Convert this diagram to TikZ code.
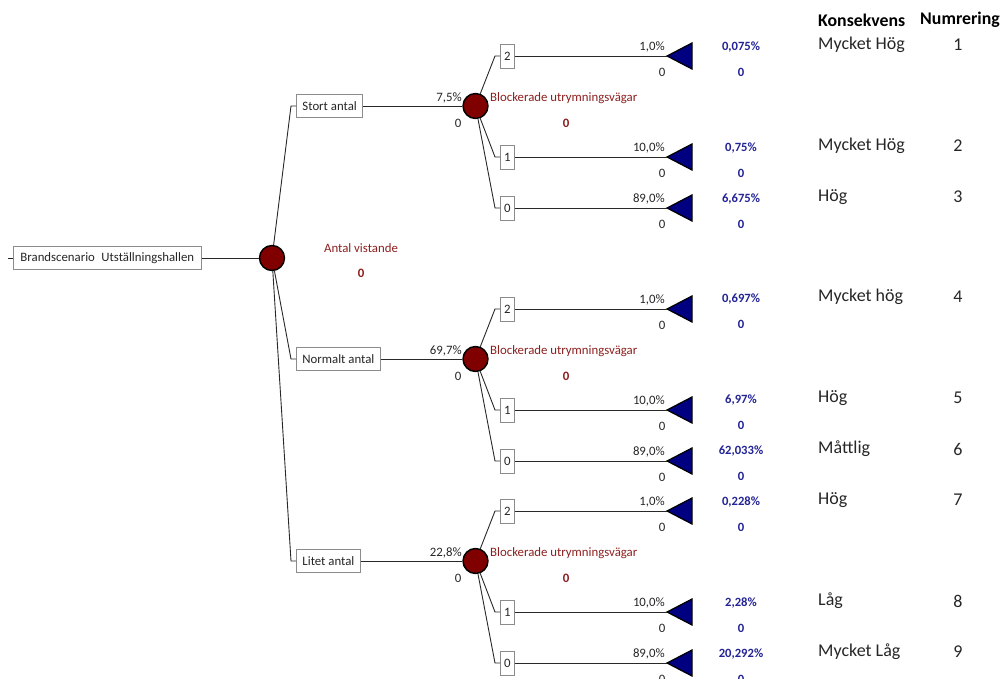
\documentclass[tikz,border=0pt]{standalone}
\usepackage{fontspec}
\setmainfont{Carlito}
\definecolor{mar}{RGB}{128,0,0}
\definecolor{martext}{RGB}{140,30,30}
\definecolor{navyf}{RGB}{0,0,128}
\definecolor{bluetext}{RGB}{35,35,150}
\definecolor{boxgray}{RGB}{140,140,140}
\definecolor{linec}{RGB}{40,40,40}
\tikzset{
  sm/.style={font=\fontsize{12.8}{14}\selectfont, inner sep=0pt, text=black!85},
  big/.style={font=\fontsize{18}{20}\selectfont, inner sep=0pt, text=black!85},
  bigb/.style={font=\fontsize{17.8}{20}\selectfont\bfseries, inner sep=0pt, text=black},
  mr/.style={font=\fontsize{12.8}{14}\selectfont, inner sep=0pt, text=martext},
  mrb/.style={font=\fontsize{12.8}{14}\selectfont\bfseries, inner sep=0pt, text=martext},
  bl/.style={font=\fontsize{12.6}{14}\selectfont\bfseries, inner sep=0pt, text=bluetext},
  box/.style={draw=boxgray, fill=white, line width=0.9pt, font=\fontsize{12.8}{14}\selectfont,
    text=black!85, inner xsep=6pt, inner ysep=0pt, minimum height=23pt},
  nbox/.style={draw=boxgray, fill=white, line width=0.9pt, font=\fontsize{12.8}{14}\selectfont,
    text=black!85, inner sep=0pt, minimum width=14pt, minimum height=24pt},
  chance/.style={circle, draw=black, fill=mar, line width=1.4pt, minimum size=25pt, inner sep=0pt},
  conn/.style={draw=linec, line width=0.9pt},
  tri/.style={draw=black, fill=navyf, line width=1.2pt, line join=miter}
}
\begin{document}
\begin{tikzpicture}[x=1pt,y=-1pt]
\useasboundingbox (0,0) rectangle (1004,679);

% root
\coordinate (rin) at (8,258);
\node[box, anchor=west, inner xsep=7pt] (root) at (13,258) {Brandscenario\hspace{0.5em}Utställningshallen};
\draw[conn] (rin) -- (root.west);
\node[chance] (c0) at (272,258) {};
\draw[conn] (root) -- (c0);
\node[mr] (av) at (361,248) {Antal vistande};
\node[mrb] (avz) at (361,273) {0};

\foreach \g/\cy/\lab/\pct in {A/106/Stort antal/{7,5\%}, B/359/Normalt antal/{69,7\%}, C/561/Litet antal/{22,8\%}} {
  \coordinate (s\g) at (291,\cy);
  \node[box, anchor=west] (b\g) at (296,\cy) {\lab};
  \draw[conn] (c0) -- (s\g) -- (b\g.west);
  \node[chance] (c\g) at (475.5,\cy) {};
  \draw[conn] (b\g) -- (c\g);
  \node[sm, anchor=east] (p\g) at (462,\cy-8) {\pct};
  \node[sm] (z\g) at (458,\cy+17) {0};
  \node[mr, anchor=west] (l\g) at (490,\cy-8) {Blockerade utrymningsvägar};
  \node[mrb] (lz\g) at (566,\cy+17) {0};
  \foreach \o/\n/\q in {-50/2/{1,0\%}, 51/1/{10,0\%}, 102/0/{89,0\%}} {
    \coordinate (s\g\n) at (495,\cy+\o);
    \node[nbox, anchor=west] (n\g\n) at (500,\cy+\o) {\n};
    \draw[conn] (c\g) -- (s\g\n) -- (n\g\n.west);
    \coordinate (t\g\n) at (667,\cy+\o);
    \draw[tri] (t\g\n) -- ++(25,-13) -- ++(0,26) -- cycle;
    \draw[conn] (n\g\n) -- (t\g\n);
    \node[sm, anchor=east] (q\g\n) at (665,\cy+\o-9) {\q};
    \node[sm] (qz\g\n) at (662,\cy+\o+16) {0};
  }
}

% outcome values, consequences and numbers
\foreach \y/\v/\k/\m in {56/{0,075\%}/Mycket Hög/1, 157/{0,75\%}/Mycket Hög/2, 208/{6,675\%}/Hög/3,
  308/{0,697\%}/Mycket hög/4, 409/{6,97\%}/Hög/5, 460/{62,033\%}/Måttlig/6,
  511/{0,228\%}/Hög/7, 612/{2,28\%}/Låg/8, 663/{20,292\%}/Mycket Låg/9} {
  \node[bl] (v\m) at (741,\y-9) {\v};
  \node[bl] (vz\m) at (741,\y+16) {0};
  \node[big, anchor=west] (k\m) at (818,\y-11) {\k};
  \node[big] (nr\m) at (958,\y-11) {\m};
}
\node[bigb, anchor=west] (hk) at (818,20) {Konsekvens};
\node[bigb] (hn) at (960,20) {Numrering};
\end{tikzpicture}
\end{document}
